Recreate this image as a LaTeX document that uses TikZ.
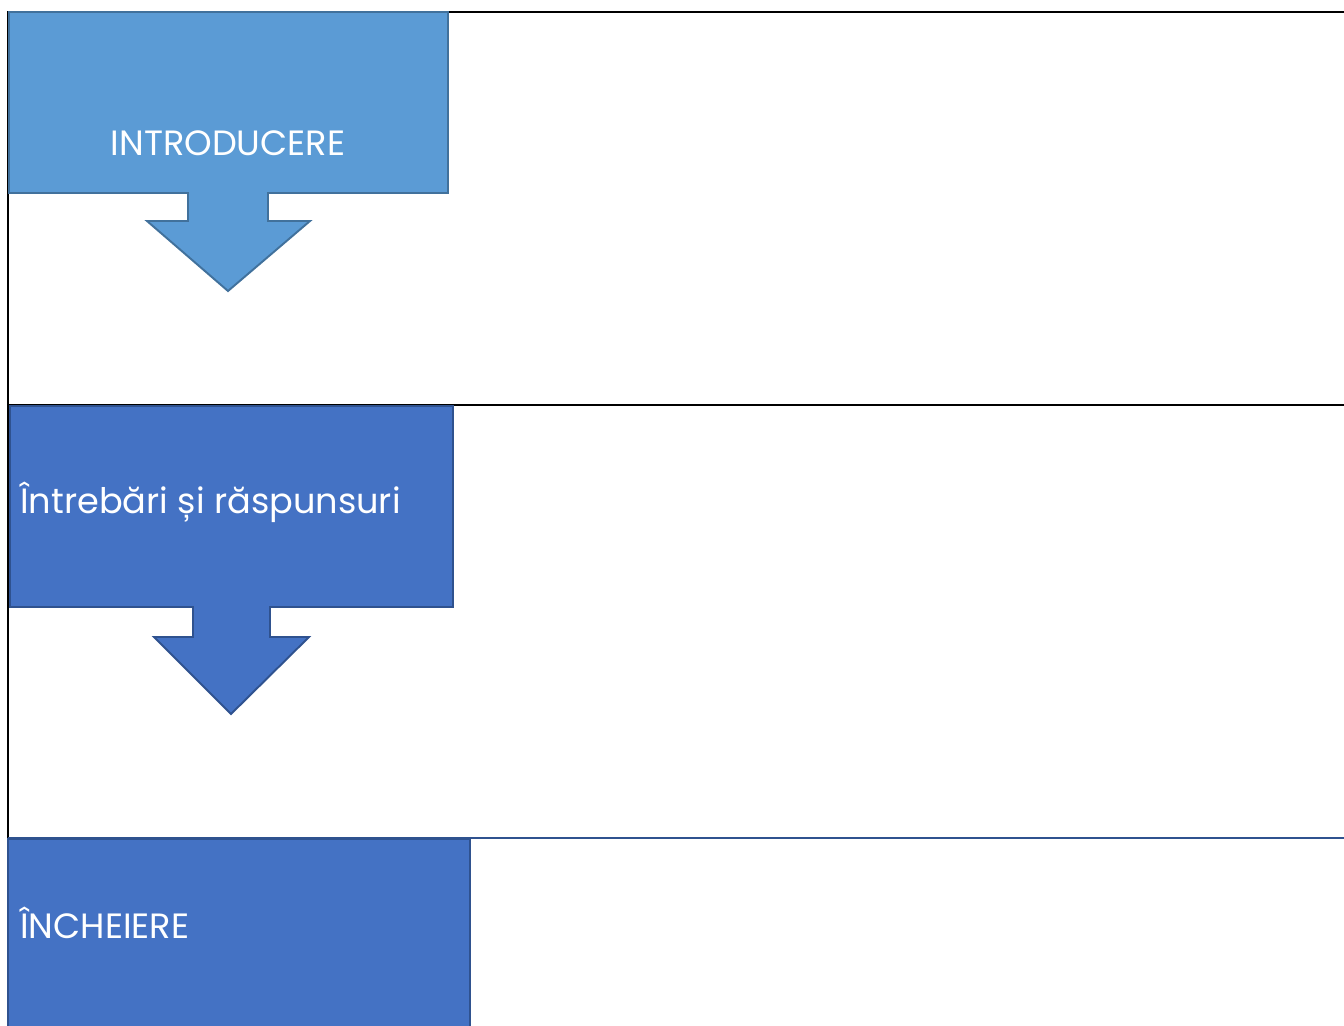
\documentclass[tikz,border=0pt]{standalone}
\usepackage{fontspec}
\setmainfont{Poppins}
\usetikzlibrary{positioning}
\definecolor{BoxLight}{HTML}{5B9BD5}
\definecolor{BoxLightEdge}{HTML}{41719C}
\definecolor{BoxDark}{HTML}{4472C4}
\definecolor{BoxDarkEdge}{HTML}{2F528F}

\begin{document}
\begin{tikzpicture}[
  x=0.02cm, y=-0.02cm,
  gridline/.style={draw=black, line width=1.2pt},
  lightbox/.style={fill=BoxLight, draw=BoxLightEdge, line width=1.1pt},
  darkbox/.style={fill=BoxDark, draw=BoxDarkEdge, line width=1.1pt},
  boxtext/.style={text=white, inner sep=0pt, font=\fontsize{20}{24}\selectfont}
]
\useasboundingbox (0,0) rectangle (1344,1025);
% table frame
\coordinate (frameTL) at (8,12);
\coordinate (frameTR) at (1344,12);
\coordinate (rowA) at (8,405);
\coordinate (rowAR) at (1344,405);
\coordinate (rowB) at (8,838);
\coordinate (rowBR) at (1344,838);
\draw[gridline] (frameTR) -- (frameTL) -- (rowB);
\draw[gridline] (rowA) -- (rowAR);
\draw[draw=BoxDarkEdge, line width=1.2pt] (rowB) -- (rowBR);
% introducere
\draw[lightbox] (9,12) -- (448,12) -- (448,193) -- (268,193) -- (268,221) -- (310,221)
  -- (228,291) -- (147,221) -- (188,221) -- (188,193) -- (9,193) -- cycle;
\node[boxtext, anchor=base] (intro) at (228,155) {INTRODUCERE};
% intrebari
\draw[darkbox] (10,406) -- (453,406) -- (453,607) -- (270,607) -- (270,637) -- (309,637)
  -- (231,714) -- (154,637) -- (193,637) -- (193,607) -- (10,607) -- cycle;
\node[boxtext, anchor=base west] (qa) at (20,513) {Întrebări și răspunsuri};
% incheiere
\draw[darkbox] (8,1030) -- (8,839) -- (470,839) -- (470,1030);
\node[boxtext, anchor=base west] (end) at (20,938) {ÎNCHEIERE};
\end{tikzpicture}
\end{document}
